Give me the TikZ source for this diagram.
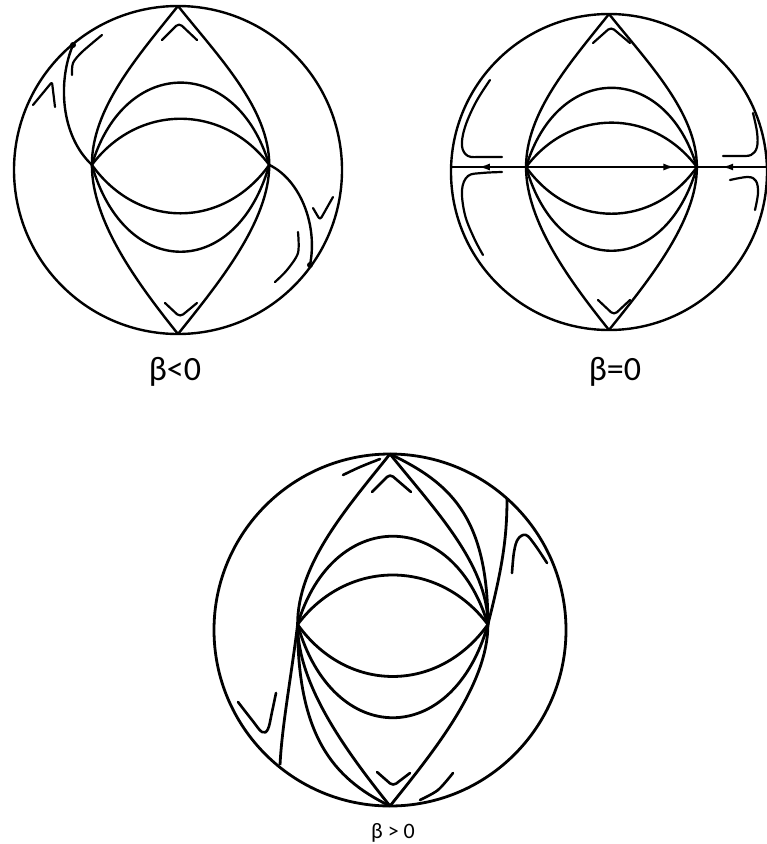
\documentclass[tikz,border=0pt]{standalone}
\usepackage{fontspec}
\newfontfamily\labelfont{Carlito}
\usetikzlibrary{arrows.meta, decorations.markings}

\begin{document}
\begin{tikzpicture}[x=1pt, y=-1pt,
  curve/.style={line width=2.4pt},
  flowmark/.style={line width=2.2pt, line cap=round, line join=round},
  dot/.style={fill=black},
  lbl/.style={font=\labelfont\fontsize{34}{40}\selectfont, inner sep=0pt},
  flowtip/.tip={Latex[length=12pt,width=7pt]},
  lens/.pic={
    \coordinate (-T) at (0,-160);
    \coordinate (-B) at (0,160);
    \coordinate (-L) at (-84,-5);
    \coordinate (-R) at (89,-5);
    \draw[curve] (0,0) circle (160);
    \draw[curve] (-T) .. controls +(-40,50) and +(0,-55) .. (-L)
                      .. controls +(0,55) and +(-40,-50) .. (-B);
    \draw[curve] (-T) .. controls +(40,50) and +(0,-55) .. (-R)
                      .. controls +(0,55) and +(40,-50) .. (-B);
    \draw[curve] (-L) .. controls +(32,-107) and +(-32,-107) .. (-R);
    \draw[curve] (-L) .. controls +(45,-60) and +(-45,-60) .. (-R);
    \draw[curve] (-L) .. controls +(45,63) and +(-45,63) .. (-R);
    \draw[curve] (-L) .. controls +(32,113) and +(-32,113) .. (-R);
  }]

\useasboundingbox (0,0) rectangle (767,844);

% beta < 0
\pic[scale=1.025] (A) at (178,170) {lens};
\coordinate (D1) at (73,45);
\coordinate (D2) at (310,265);
\draw[curve] (A-L) .. controls +(-32,-30) and +(-15,35) .. (D1);
\draw[curve] (A-R) .. controls +(31,15) and +(8,-40) .. (D2);
\fill[dot] (D1) circle (3);
\fill[dot] (D2) circle (3);
\draw[flowmark, rounded corners=4pt] (162,40) -- (179,23) -- (197,40);
\draw[flowmark, rounded corners=4pt] (165,303) -- (180,317) -- (197,303);
\draw[flowmark, rounded corners=2pt] (33,105) -- (52,82) -- (55,107);
\draw[flowmark] plot[smooth] coordinates {(72,75) (73,63) (82,52) (102,35)};
\draw[flowmark, rounded corners=3pt] (313,208) -- (320,220) -- (333,197);
\draw[flowmark] plot[smooth] coordinates {(298,232) (298,253) (287,270) (275,282)};
\node[lbl] (betaneg) at (175,372) {β<0};

% beta = 0
\pic[scale=0.9875] (B) at (609,172) {lens};
\coordinate (B-W) at (451,167);
\coordinate (B-E) at (767,167);
\draw[curve, decoration={markings,
    mark=at position 0.085 with {\arrowreversed{flowtip}},
    mark=at position 0.71 with {\arrow{flowtip}},
    mark=at position 0.855 with {\arrowreversed{flowtip}}},
  postaction=decorate] (B-W) -- (B-E);
\draw[flowmark, rounded corners=4pt] (593,43) -- (611,27) -- (630,43);
\draw[flowmark, rounded corners=4pt] (598,300) -- (614,315) -- (630,300);
\draw[flowmark] plot[smooth, tension=0.6] coordinates {(490,80) (476,102) (465,127) (462,146) (468,156) (482,157) (502,157)};
\draw[flowmark] plot[smooth, tension=0.6] coordinates {(502,172) (482,173) (468,176) (462,190) (465,215) (474,238) (483,255)};
\draw[flowmark] plot[smooth, tension=0.6] coordinates {(753,113) (757,132) (757,147) (751,155) (738,156) (723,156)};
\draw[flowmark] plot[smooth, tension=0.6] coordinates {(730,180) (748,177) (756,181) (758,193) (755,210)};
\node[lbl] (betazero) at (615,372) {β=0};

% beta > 0
\pic[scale=1.1, curve/.append style={line width=2.8pt}] (C) at (390,630) {lens};
\coordinate (S1) at (507,499);
\coordinate (S2) at (280,765);
\draw[curve, line width=2.8pt] (C-T) .. controls +(58,28) and +(0,-110) .. (C-R);
\draw[curve, line width=2.8pt] (C-L) .. controls +(0,110) and +(-58,-28) .. (C-B);
\draw[curve, line width=2.8pt] (C-R) .. controls +(14,-55) and +(0,40) .. (S1);
\draw[curve, line width=2.8pt] (C-L) .. controls +(-6,50) and +(2,-40) .. (S2);
\draw[flowmark, line width=2.6pt] plot[smooth] coordinates {(343,475) (360,467) (380,459)};
\draw[flowmark, line width=2.6pt, rounded corners=4pt] (372,492) -- (390,474) -- (411,492);
\draw[flowmark, line width=2.6pt] plot[smooth, tension=0.6] coordinates {(512,573) (514,552) (518,539) (526,535) (535,545) (547,563)};
\draw[flowmark, line width=2.6pt] plot[smooth, tension=0.6] coordinates {(238,702) (252,720) (262,732) (268,729) (272,712) (276,693)};
\draw[flowmark, line width=2.6pt, rounded corners=4pt] (377,772) -- (393,786) -- (410,773);
\draw[flowmark, line width=2.6pt] plot[smooth] coordinates {(420,800) (438,790) (453,773)};
\node[lbl, font=\labelfont\fontsize{22}{26}\selectfont] (betapos) at (393,833) {β > 0};
\end{tikzpicture}
\end{document}
